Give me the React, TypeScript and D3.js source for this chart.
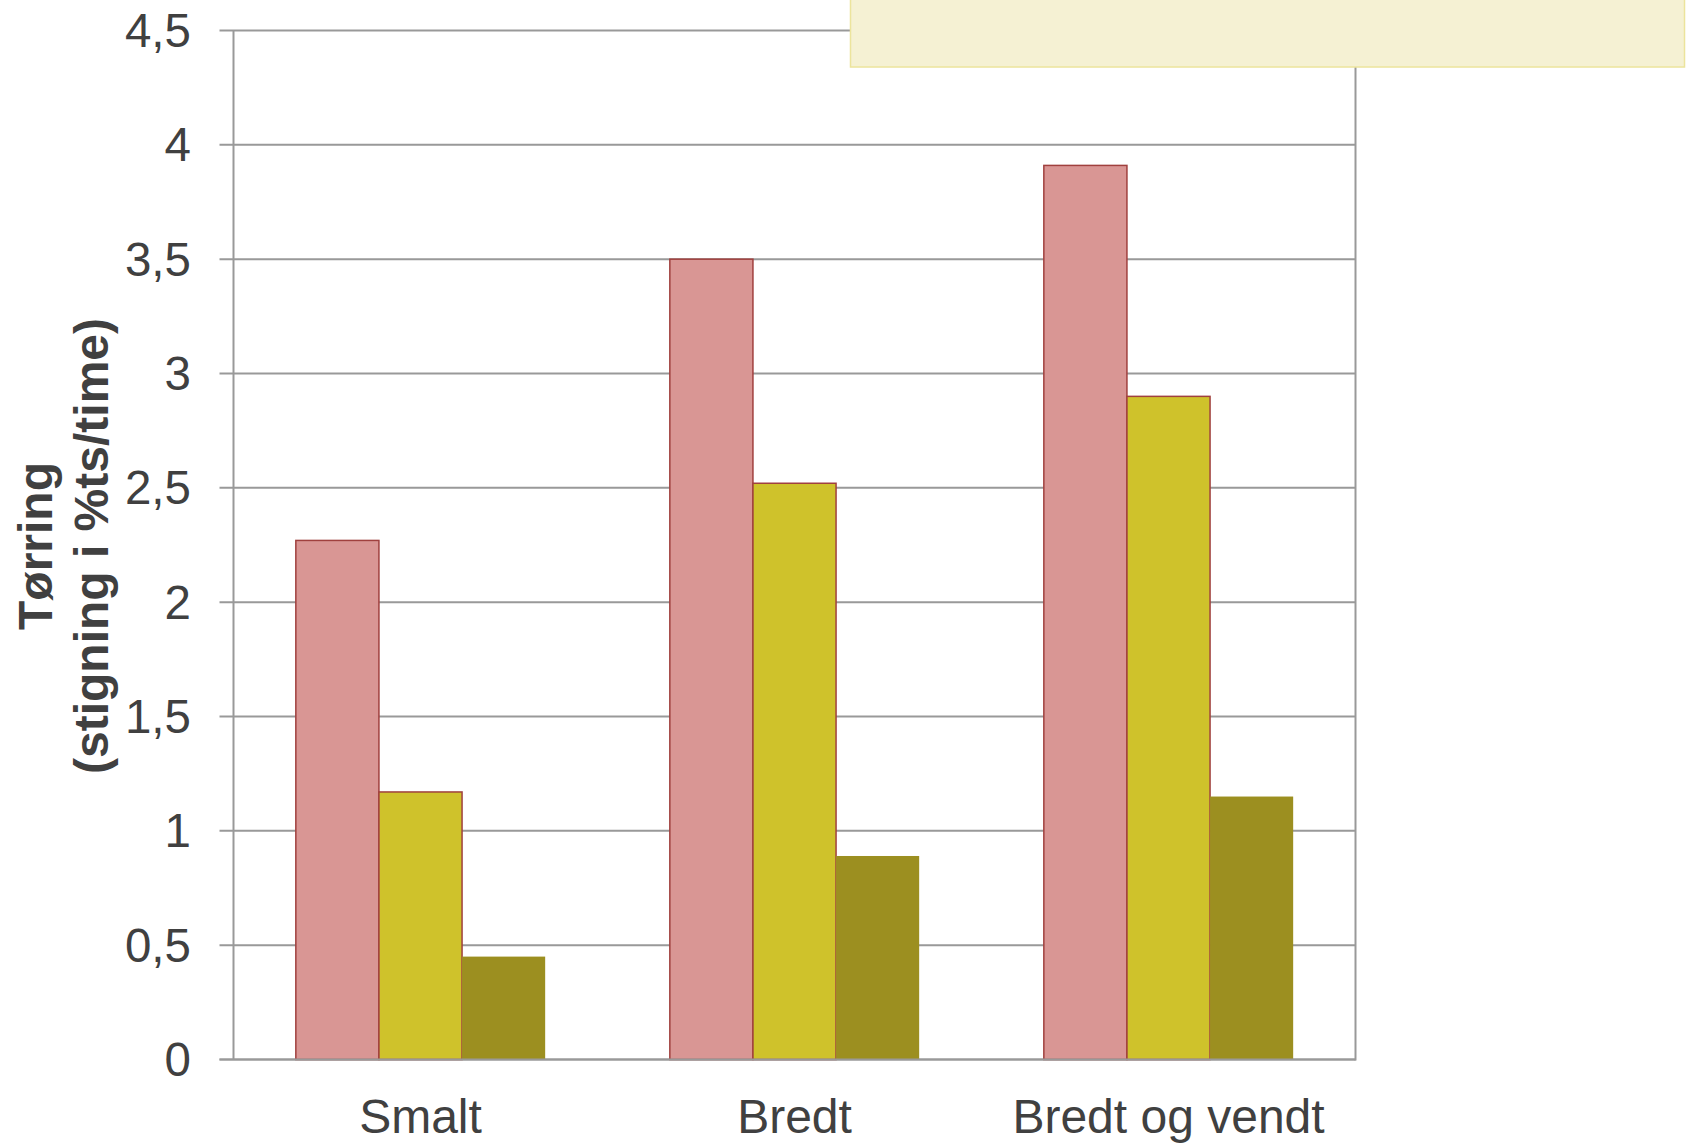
import React from "react";
import * as d3 from "d3";

const categories = ["Smalt", "Bredt", "Bredt og vendt"];
const seriesNames = ["A", "B", "C"];
const seriesA = [2.27, 3.5, 3.91];
const seriesB = [1.17, 2.52, 2.9];
const seriesC = [0.45, 0.89, 1.15];
const yTicks = [0, 0.5, 1, 1.5, 2, 2.5, 3, 3.5, 4, 4.5];
const seriesColors = ["#D99694", "#CFC22B", "#9C8F20"];
const seriesStrokes = ["#A0403E", "#A0403E", "none"];

const W = 1688;
const H = 1143;
const margin = { left: 233.5, right: 1355.5, top: 30.5, bottom: 1059.5 };

export default function App() {
  const series = [seriesA, seriesB, seriesC];
  const x = d3.scaleBand<string>().domain(categories).range([margin.left, margin.right]).paddingInner(0).paddingOuter(0);
  const inner = d3.scaleBand<string>().domain(seriesNames).range([0, x.bandwidth()]).paddingOuter(0.75).paddingInner(0);
  const y = d3.scaleLinear().domain([0, 4.5]).range([margin.bottom, margin.top]);
  const fmt = (v: number) => String(v).replace(".", ",");
  const font = "Liberation Sans, Arial, sans-serif";
  const textColor = "#404040";
  const grid = "#999999";

  return (
    <svg width={W} height={H} style={{ position: "absolute", left: 0, top: 0, background: "#fff" }} fontFamily={font}>
      {yTicks.map((t) => (
        <line key={"g" + t} x1={margin.left - 14} x2={margin.right} y1={y(t)} y2={y(t)} stroke={grid} strokeWidth={2} />
      ))}
      <line x1={margin.left} x2={margin.left} y1={margin.top} y2={margin.bottom} stroke={grid} strokeWidth={2} />
      <line x1={margin.right} x2={margin.right} y1={margin.top} y2={margin.bottom + 1} stroke={grid} strokeWidth={2} />
      {yTicks.map((t) => (
        <text key={"t" + t} x={191} y={y(t)} textAnchor="end" dominantBaseline="central" fontSize={47.5} fill={textColor}>
          {fmt(t)}
        </text>
      ))}
      {categories.map((c, ci) => (
        <g key={c}>
          {series.map((s, si) => {
            const bx = (x(c) as number) + (inner(seriesNames[si]) as number);
            const by = y(s[ci]);
            return (
              <rect
                key={si}
                x={bx}
                y={by}
                width={inner.bandwidth()}
                height={y(0) - by}
                fill={seriesColors[si]}
                stroke={seriesStrokes[si]}
                strokeWidth={1.5}
              />
            );
          })}
          <text x={(x(c) as number) + x.bandwidth() / 2} y={1116} textAnchor="middle" dominantBaseline="central" fontSize={48} fill={textColor}>
            {c}
          </text>
        </g>
      ))}
      <line x1={margin.left - 14} x2={margin.right} y1={y(0)} y2={y(0)} stroke={grid} strokeWidth={2} />
      <g transform="translate(35,546) rotate(-90)">
        <text x={0} y={0} textAnchor="middle" dominantBaseline="central" fontSize={48} fontWeight="bold" fill={textColor}>
          Tørring
        </text>
      </g>
      <g transform="translate(91,546) rotate(-90)">
        <text x={0} y={0} textAnchor="middle" dominantBaseline="central" fontSize={48} fontWeight="bold" fill={textColor}>
          (stigning i %ts/time)
        </text>
      </g>
      <rect x={850.5} y={-2} width={834} height={69} fill="#F5F1D3" stroke="#ECE49C" strokeWidth={1.5} />
    </svg>
  );
}
